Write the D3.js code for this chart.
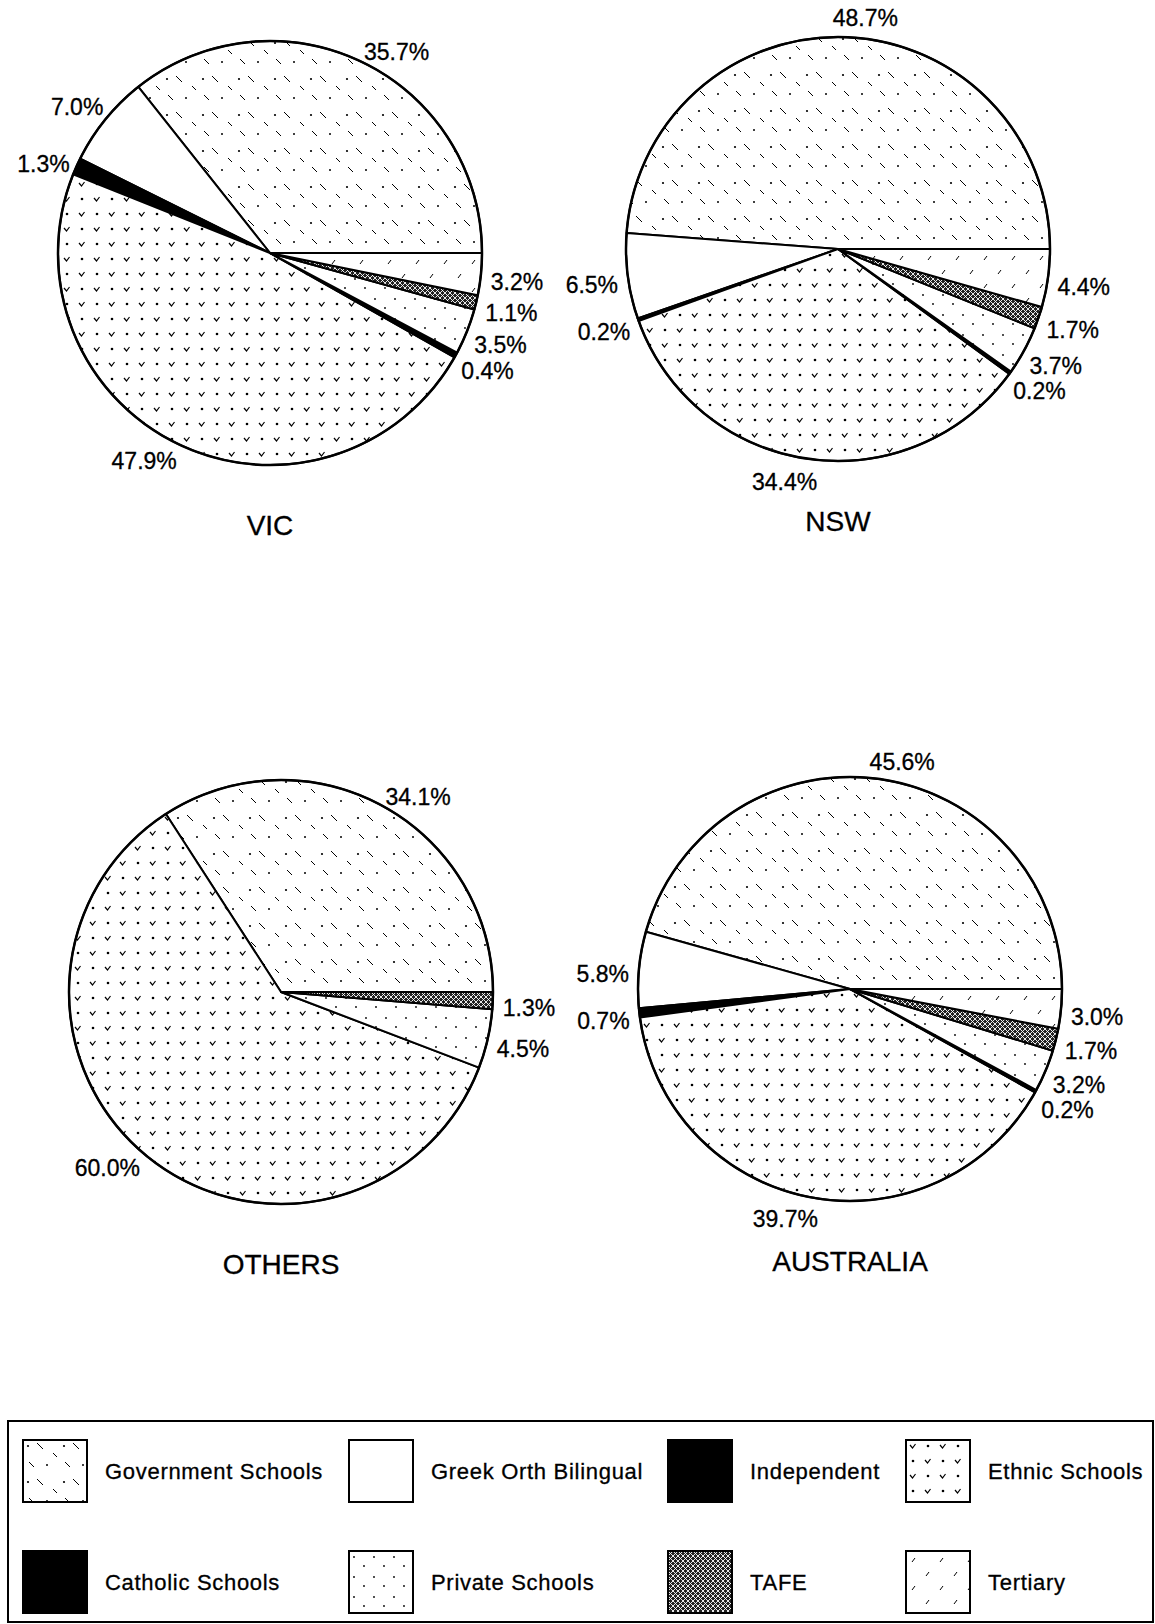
<!DOCTYPE html>
<html>
<head>
<meta charset="utf-8">
<script src="https://cdn.jsdelivr.net/npm/d3@7"></script>
<style>
  body { margin: 0; background: #fff; }
  text { font-family: "Liberation Sans", Arial, Helvetica, sans-serif; fill: #000; stroke: #000; stroke-width: 0.3; }
</style>
</head>
<body>
<svg id="canvas" width="1155" height="1624"></svg>
<script>
// slice order, counter-clockwise from 3 o'clock
let categories = ['Government Schools', 'Greek Orth Bilingual', 'Catholic Schools', 'Ethnic Schools',
                  'Independent', 'Private Schools', 'TAFE', 'Tertiary']
let vicValues = [35.7, 7.0, 1.3, 47.9, 0.4, 3.5, 1.1, 3.2]
let nswValues = [48.7, 6.5, 0.2, 34.4, 0.2, 3.7, 1.7, 4.4]
let othersValues = [34.1, 0, 0, 60.0, 0, 4.5, 1.3, 0]
let australiaValues = [45.6, 5.8, 0.7, 39.7, 0.2, 3.2, 1.7, 3.0]
let regions = ['VIC', 'NSW', 'OTHERS', 'AUSTRALIA']
let legendOrder = ['Government Schools', 'Greek Orth Bilingual', 'Independent', 'Ethnic Schools',
                   'Catholic Schools', 'Private Schools', 'TAFE', 'Tertiary']

let canvas = d3.select('#canvas')
let defs = canvas.append('defs')

// scanned-looking fills
let makePattern = (id, size, bg, draw) => {
    let p = defs.append('pattern')
        .attr('id', id)
        .attr('patternUnits', 'userSpaceOnUse')
        .attr('width', size)
        .attr('height', size)
    p.append('rect').attr('width', size).attr('height', size).attr('fill', bg)
    draw(p)
}

makePattern('gov', 36, '#fff', (p) => {
    p.append('circle').attr('cx', 5).attr('cy', 6).attr('r', 1.1).attr('fill', '#000')
    p.append('circle').attr('cx', 24).attr('cy', 25).attr('r', 1).attr('fill', '#000')
    p.append('path').attr('d', 'M14,3 L20,9 M30,13 L34,17 M6,22 L11,27')
        .attr('stroke', '#000').attr('stroke-width', 1)
})
makePattern('ethnic', 30, '#fff', (p) => {
    p.append('path').attr('d', 'M4,5 L6.5,8 L9.5,4 M19,20 L21.5,23 L24.5,19')
        .attr('stroke', '#000').attr('stroke-width', 1.2).attr('fill', 'none')
    p.append('circle').attr('cx', 22).attr('cy', 6).attr('r', 1.3).attr('fill', '#000')
    p.append('circle').attr('cx', 7).attr('cy', 21).attr('r', 1.3).attr('fill', '#000')
})
makePattern('tafe', 5, '#222', (p) => {
    p.append('path').attr('d', 'M0,0 L5,5 M5,0 L0,5')
        .attr('stroke', '#fff').attr('stroke-width', 0.9)
})
makePattern('private', 20, '#fff', (p) => {
    p.append('circle').attr('cx', 5).attr('cy', 6).attr('r', 0.9).attr('fill', '#000')
    p.append('circle').attr('cx', 15).attr('cy', 15).attr('r', 0.9).attr('fill', '#000')
})
makePattern('tertiary', 28, '#fff', (p) => {
    p.append('path').attr('d', 'M6,11 L9,7 M20,25 L23,21')
        .attr('stroke', '#000').attr('stroke-width', 1)
})

let fills = {
    'Government Schools': 'url(#gov)',
    'Greek Orth Bilingual': '#fff',
    'Catholic Schools': '#000',
    'Ethnic Schools': 'url(#ethnic)',
    'Independent': '#000',
    'Private Schools': 'url(#private)',
    'TAFE': 'url(#tafe)',
    'Tertiary': 'url(#tertiary)'
}

let pies = [
    { name: regions[0], values: vicValues, cx: 270, cy: 253 },
    { name: regions[1], values: nswValues, cx: 838, cy: 249 },
    { name: regions[2], values: othersValues, cx: 281, cy: 992 },
    { name: regions[3], values: australiaValues, cx: 850, cy: 989 }
]

let radius = 212
let labelRadius = radius + 10
let fmt = d3.format('.1f')

// d3 angles run clockwise from 12 o'clock; the charts start at 3 o'clock going counter-clockwise
let pie = d3.pie()
    .sort(null)
    .value((d) => d.value)
    .startAngle(Math.PI / 2)
    .endAngle(Math.PI / 2 - 2 * Math.PI)

let arc = d3.arc().innerRadius(0).outerRadius(radius)

let drawPie = (cfg) => {
    let g = canvas.append('g').attr('transform', `translate(${cfg.cx},${cfg.cy})`)
    let data = categories.map((c, i) => ({ category: c, value: cfg.values[i] }))
    let arcs = pie(data).filter((a) => a.data.value > 0)

    g.selectAll('path.slice')
        .data(arcs)
        .enter()
        .append('path')
        .attr('class', 'slice')
        .attr('d', arc)
        .attr('fill', (a) => fills[a.data.category])
        .attr('stroke', '#000')
        .attr('stroke-width', 2)
        .attr('stroke-linejoin', 'round')

    g.append('circle')
        .attr('r', radius)
        .attr('fill', 'none')
        .attr('stroke', '#000')
        .attr('stroke-width', 2.5)

    let labels = g.selectAll('text.pct')
        .data(arcs)
        .enter()
        .append('text')
        .attr('class', 'pct')
        .attr('font-size', 23)
        .attr('text-anchor', 'middle')
        .attr('dy', '0.35em')
        .text((a) => fmt(a.data.value) + '%')

    // place each label just outside its slice, pushed out by half its size
    let placed = []
    labels.each(function (a) {
        let mid = (a.startAngle + a.endAngle) / 2
        // big slices have their label nudged a little clockwise, as in the original
        if (a.data.value >= 20) mid += 4 * Math.PI / 180
        let sx = Math.sin(mid)
        let cy = -Math.cos(mid)
        let w = this.getComputedTextLength()
        let y = cy * (labelRadius + 10) + (cy < -0.6 ? 0 : 6)
        placed.push({ node: this, x: sx * (labelRadius + w / 2), y: y, side: sx >= 0 ? 1 : -1 })
    })
    // keep stacked labels from overlapping
    ;[1, -1].forEach((side) => {
        let list = placed.filter((p) => p.side === side).sort((a, b) => a.y - b.y)
        for (let i = 1; i < list.length; i++) {
            if (list[i].y - list[i - 1].y < 25) list[i].y = list[i - 1].y + 25
        }
    })
    placed.forEach((p) => d3.select(p.node).attr('x', p.x).attr('y', p.y))

    g.append('text')
        .attr('y', radius + 70)
        .attr('text-anchor', 'middle')
        .attr('font-size', 28)
        .text(cfg.name)
}

pies.forEach(drawPie)

// legend
let legend = canvas.append('g')
legend.append('rect')
    .attr('x', 8).attr('y', 1421)
    .attr('width', 1145).attr('height', 201)
    .attr('fill', 'none')
    .attr('stroke', '#000')
    .attr('stroke-width', 2)

let colX = [23, 349, 668, 906]
let rowY = [1440, 1551]

let items = legend.selectAll('g.item')
    .data(legendOrder)
    .enter()
    .append('g')
    .attr('class', 'item')
    .attr('transform', (d, i) => `translate(${colX[i % 4]},${rowY[Math.floor(i / 4)]})`)

items.append('rect')
    .attr('width', 64)
    .attr('height', 62)
    .attr('fill', (d) => fills[d])
    .attr('stroke', '#000')
    .attr('stroke-width', 2)

items.append('text')
    .attr('x', 82)
    .attr('y', 31)
    .attr('dy', '0.35em')
    .attr('font-size', 22)
    .attr('letter-spacing', 0.7)
    .text((d) => d)
</script>
</body>
</html>
